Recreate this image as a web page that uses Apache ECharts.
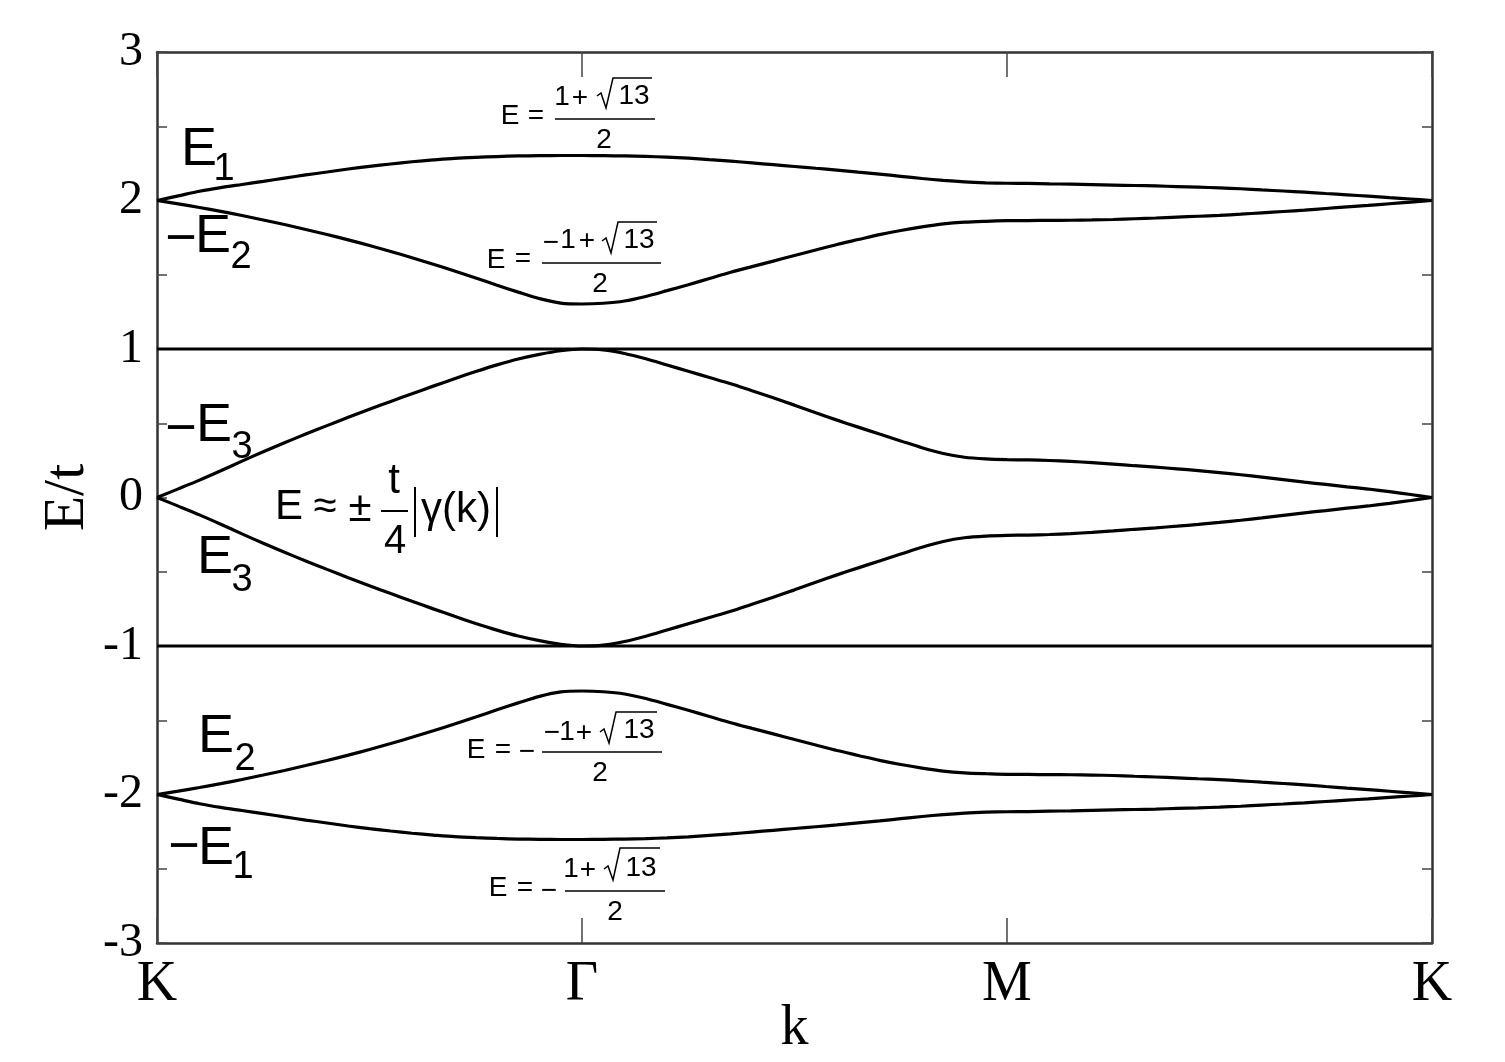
<!DOCTYPE html>
<html>
<head>
<meta charset="utf-8">
<script src="https://cdn.jsdelivr.net/npm/echarts@6/dist/echarts.min.js"></script>
<style>
html,body{margin:0;padding:0;background:#fff;}
#chart{width:1505px;height:1062px;}
</style>
</head>
<body>
<div id="chart"></div>
<script>
// k-path positions: K=0, Γ=1, M=2, K=3 (step 0.05)
const kPos = [0,0.05,0.1,0.15,0.2,0.25,0.3,0.35,0.4,0.45,0.5,0.55,0.6,0.65,0.7,0.75,0.8,0.85,0.9,0.95,
  1,1.05,1.1,1.15,1.2,1.25,1.3,1.35,1.4,1.45,1.5,1.55,1.6,1.65,1.7,1.75,1.8,1.85,1.9,1.95,
  2,2.05,2.1,2.15,2.2,2.25,2.3,2.35,2.4,2.45,2.5,2.55,2.6,2.65,2.7,2.75,2.8,2.85,2.9,2.95,3];
const kTickLabels = ['K','Γ','M','K'];
const yTickLabels = {'3':'3','2':'2','1':'1','0':'0','-1':'-1','-2':'-2','-3':'-3'};

// band energies E/t
const bandE1 = [2.000,2.031,2.062,2.087,2.108,2.129,2.151,2.172,2.192,2.212,2.230,2.246,2.261,2.273,2.284,2.291,2.296,2.300,2.302,2.303,
  2.303,2.302,2.300,2.297,2.292,2.285,2.275,2.265,2.253,2.241,2.229,2.217,2.205,2.191,2.178,2.163,2.148,2.135,2.125,2.119,
  2.116,2.115,2.112,2.110,2.107,2.104,2.101,2.098,2.094,2.090,2.085,2.079,2.071,2.064,2.056,2.047,2.038,2.029,2.019,2.010,2.000];
const bandNegE2 = [2.000,1.977,1.953,1.927,1.899,1.869,1.838,1.805,1.771,1.735,1.697,1.657,1.615,1.571,1.525,1.478,1.430,1.383,1.339,1.309,
  1.303,1.308,1.323,1.354,1.393,1.433,1.475,1.517,1.555,1.592,1.630,1.667,1.704,1.737,1.770,1.798,1.822,1.842,1.854,1.860,
  1.864,1.865,1.866,1.867,1.869,1.872,1.877,1.882,1.888,1.894,1.900,1.908,1.917,1.926,1.935,1.946,1.957,1.967,1.978,1.989,2.000];
const bandNegE3 = [0,0.058,0.117,0.180,0.245,0.308,0.369,0.427,0.484,0.540,0.594,0.647,0.699,0.750,0.800,0.848,0.893,0.933,0.964,0.988,
  1.000,0.994,0.970,0.934,0.892,0.850,0.808,0.766,0.719,0.672,0.622,0.571,0.521,0.474,0.427,0.381,0.335,0.296,0.271,0.260,
  0.255,0.253,0.249,0.243,0.235,0.225,0.214,0.204,0.193,0.181,0.168,0.153,0.137,0.120,0.103,0.088,0.072,0.057,0.039,0.020,0];
const bandE3 = [0,-0.058,-0.117,-0.180,-0.245,-0.308,-0.369,-0.427,-0.484,-0.540,-0.594,-0.647,-0.699,-0.750,-0.800,-0.848,-0.893,-0.933,-0.964,-0.988,
  -1.000,-0.994,-0.970,-0.934,-0.892,-0.850,-0.808,-0.766,-0.719,-0.672,-0.622,-0.571,-0.521,-0.474,-0.427,-0.381,-0.335,-0.296,-0.271,-0.260,
  -0.255,-0.253,-0.249,-0.243,-0.235,-0.225,-0.214,-0.204,-0.193,-0.181,-0.168,-0.153,-0.137,-0.120,-0.103,-0.088,-0.072,-0.057,-0.039,-0.020,0];
const bandE2 = [-2.000,-1.977,-1.953,-1.927,-1.899,-1.869,-1.838,-1.805,-1.771,-1.735,-1.697,-1.657,-1.615,-1.571,-1.525,-1.478,-1.430,-1.383,-1.339,-1.309,
  -1.303,-1.308,-1.323,-1.354,-1.393,-1.433,-1.475,-1.517,-1.555,-1.592,-1.630,-1.667,-1.704,-1.737,-1.770,-1.798,-1.822,-1.842,-1.854,-1.860,
  -1.864,-1.865,-1.866,-1.867,-1.869,-1.872,-1.877,-1.882,-1.888,-1.894,-1.900,-1.908,-1.917,-1.926,-1.935,-1.946,-1.957,-1.967,-1.978,-1.989,-2.000];
const bandNegE1 = [-2.000,-2.031,-2.062,-2.087,-2.108,-2.129,-2.151,-2.172,-2.192,-2.212,-2.230,-2.246,-2.261,-2.273,-2.284,-2.291,-2.296,-2.300,-2.302,-2.303,
  -2.303,-2.302,-2.300,-2.297,-2.292,-2.285,-2.275,-2.265,-2.253,-2.241,-2.229,-2.217,-2.205,-2.191,-2.178,-2.163,-2.148,-2.135,-2.125,-2.119,
  -2.116,-2.115,-2.112,-2.110,-2.107,-2.104,-2.101,-2.098,-2.094,-2.090,-2.085,-2.079,-2.071,-2.064,-2.056,-2.047,-2.038,-2.029,-2.019,-2.010,-2.000];
const flatPos = [0,3];
const flatUp = [1,1];
const flatDown = [-1,-1];

function pairs(xs, ys){ return xs.map((x,i)=>[x, ys[i]]); }

const SANS = '"Liberation Sans", Arial, sans-serif';
const SERIF = '"Liberation Serif", "Times New Roman", serif';
function T(s,x,y,size,extra){
  return {type:'text', z:100, style:Object.assign({text:s,x:x,y:y,fontSize:size,fontFamily:SANS,fill:'#000',align:'center',verticalAlign:'middle'}, extra||{})};
}
function L(x1,y1,x2,y2,w){
  return {type:'line', z:100, shape:{x1:x1,y1:y1,x2:x2,y2:y2}, style:{stroke:'#000',lineWidth:w||1.5}};
}
function P(pts,w){
  return {type:'polyline', z:100, shape:{points:pts}, style:{stroke:'#000',fill:null,lineWidth:w||1.5}};
}

const graphics = [
  // band labels
  T('E',199,150,54), T('1',224,170,38),
  T('\u2212',181,240,54), T('E',213,237,54), T('2',241,258,38),
  T('\u2212',181,430,54), T('E',214,426,54), T('3',242,448,38),
  T('E',215,558,54), T('3',242,581,38),
  T('E',216,737,54), T('2',245,760,38),
  T('\u2212',184,848,54), T('E',216,849,54), T('1',243,868,38),
  // E ≈ ± t/4 |γ(k)|
  T('E',289,507,42), T('\u2248',325,507,42), T('\u00b1',360,509,42),
  T('t',394,481,42), L(381,511,408,511,2), T('4',395,542,40),
  L(415,487,415,537,2), T('\u03b3(k)',456,510,42), L(497,487,497,537,2),
  // E = (1+√13)/2
  T('E',510,116,28), T('=',536,116,28), L(555,119,655,119,1.5),
  T('1',562,97,28), T('+',580,98,28), P([[597,96],[601,93],[606,108],[613,78],[652,78]],1.5), T('13',634,96,28),
  T('2',604,140,28),
  // E = (-1+√13)/2
  T('E',496,260,28), T('=',523,259,28), L(542,263,661,263,1.5),
  T('\u2212',551,243,28), T('1',568,240,28), T('+',587,241,28),
  P([[602,241],[606,238],[611,253],[618,222],[657,222]],1.5), T('13',639,240,28),
  T('2',600,284,28),
  // E = -(-1+√13)/2
  T('E',476,750,28), T('=',503,750,28), T('\u2212',527,752,28), L(542,752,662,752,1.5),
  T('\u2212',552,733,28), T('1',567,732,28), T('+',584,733,28),
  P([[600,732],[604,729],[609,743],[616,712],[657,712]],1.5), T('13',639,730,28),
  T('2',600,773,28),
  // E = -(1+√13)/2
  T('E',498,888,28), T('=',525,888,28), T('\u2212',549,891,28), L(565,891,665,891,1.5),
  T('1',571,869,28), T('+',588,870,28),
  P([[604,869],[608,866],[613,880],[620,848],[660,848]],1.5), T('13',641,868,28),
  T('2',615,912,28)
];

const axisLineStyle = {color:'#333', width:2.5};
const tickStyle = {color:'#444', width:1.5};

function lineSeries(ys){
  return {type:'line', data:pairs(kPos, ys), showSymbol:false, symbol:'none', smooth:0.3,
    lineStyle:{color:'#000', width:3.2}, silent:true, z:5};
}

const option = {
  animation:false,
  backgroundColor:'#fff',
  grid:{left:157, right:73, top:52, bottom:119, containLabel:false, outerBoundsMode:'none'},
  xAxis:[
    {type:'value', min:0, max:3, interval:1, position:'bottom',
     axisLine:{show:true, onZero:false, lineStyle:axisLineStyle},
     axisTick:{show:true, inside:true, length:25, lineStyle:tickStyle},
     axisLabel:{show:true, margin:14, fontFamily:SERIF, fontSize:56, color:'#000',
       formatter:function(v){ return kTickLabels[Math.round(v)]; }},
     splitLine:{show:false},
     name:'k', nameLocation:'middle', nameGap:58, nameMoveOverlap:false,
     nameTextStyle:{fontFamily:SERIF, fontSize:56, color:'#000'}},
    {type:'value', min:0, max:3, interval:1, position:'top',
     axisLine:{show:true, onZero:false, lineStyle:axisLineStyle},
     axisTick:{show:true, inside:true, length:25, lineStyle:tickStyle},
     axisLabel:{show:false}, splitLine:{show:false}}
  ],
  yAxis:[
    {type:'value', min:-3, max:3, interval:1, position:'left',
     axisLine:{show:true, onZero:false, lineStyle:axisLineStyle},
     axisTick:{show:true, inside:true, length:10, lineStyle:tickStyle},
     minorTick:{show:true, splitNumber:2, length:10, lineStyle:tickStyle},
     axisLabel:{show:true, margin:14, fontFamily:SERIF, fontSize:48, color:'#000',
       formatter:function(v){ return yTickLabels[String(v)]; }},
     splitLine:{show:false},
     name:'E/t', nameLocation:'middle', nameGap:60, nameRotate:90, nameMoveOverlap:false,
     nameTextStyle:{fontFamily:SERIF, fontSize:58, color:'#000'}},
    {type:'value', min:-3, max:3, interval:1, position:'right',
     axisLine:{show:true, onZero:false, lineStyle:axisLineStyle},
     axisTick:{show:true, inside:true, length:10, lineStyle:tickStyle},
     minorTick:{show:true, splitNumber:2, length:10, lineStyle:tickStyle},
     axisLabel:{show:false}, splitLine:{show:false}}
  ],
  series:[
    lineSeries(bandE1),
    lineSeries(bandNegE2),
    lineSeries(bandNegE3),
    lineSeries(bandE3),
    lineSeries(bandE2),
    lineSeries(bandNegE1),
    {type:'line', data:pairs(flatPos, flatUp), showSymbol:false, symbol:'none', lineStyle:{color:'#000', width:3.2}, silent:true},
    {type:'line', data:pairs(flatPos, flatDown), showSymbol:false, symbol:'none', lineStyle:{color:'#000', width:3.2}, silent:true}
  ],
  graphic:graphics
};

const chart = echarts.init(document.getElementById('chart'), null, {renderer:'canvas'});
chart.setOption(option);
</script>
</body>
</html>
